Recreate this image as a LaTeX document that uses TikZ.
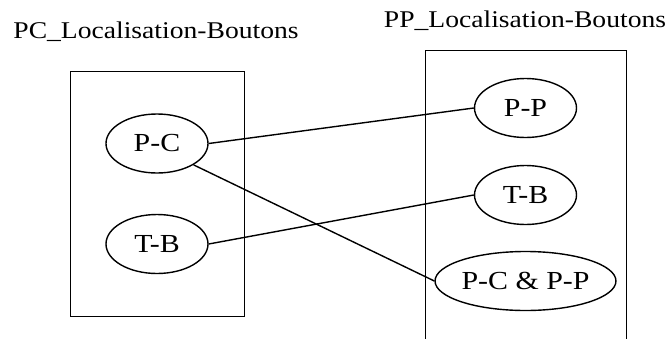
\documentclass[tikz,border=0pt]{standalone}
\usepackage{fontspec}
\setmainfont{Liberation Serif}[FakeStretch=1.15]
\usepackage{tikz}
\usetikzlibrary{shapes.geometric, positioning}

\begin{document}
\begin{tikzpicture}[
    x=1pt, y=-1pt,
    bouton/.style={
        ellipse, draw=black, line width=1.4pt,
        minimum width=102pt, minimum height=59pt,
        inner sep=0pt, font=\fontsize{26}{30}\selectfont
    },
    cadre/.style={
        rectangle, draw=black, line width=1.4pt,
        inner sep=0pt, anchor=north west
    },
    titre/.style={anchor=base, font=\fontsize{24}{28}\selectfont},
    lien/.style={line width=1.4pt},
]
\useasboundingbox (0,0) rectangle (669,338);
\clip (0,0) rectangle (669,338);

% Titres
\node[titre] (titrePC) at (156,38) {PC\_Localisation-Boutons};
\node[titre] (titrePP) at (525,27) {PP\_Localisation-Boutons};

% Cadres
\node[cadre, minimum width=174pt, minimum height=245pt] (cadrePC) at (70,71) {};
\node[cadre, minimum width=201pt, minimum height=310pt] (cadrePP) at (425,50) {};

% Boutons PC
\node[bouton] (pcPC) at (157,143.5) {P-C};
\node[bouton] (pcTB) at (157,244)   {T-B};

% Boutons PP
\node[bouton] (ppPP)   at (525.5,108) {P-P};
\node[bouton] (ppTB)   at (525.5,195) {T-B};
\node[bouton, minimum width=137pt] (ppPCPP) at (525.5,281) {P-C \& P-P};

% Liens
\draw[lien] (pcPC.east) -- (ppPP.west);
\draw[lien] (pcPC.south east) -- (ppPCPP.west);
\draw[lien] (pcTB.east) -- (ppTB.west);

\end{tikzpicture}
\end{document}
